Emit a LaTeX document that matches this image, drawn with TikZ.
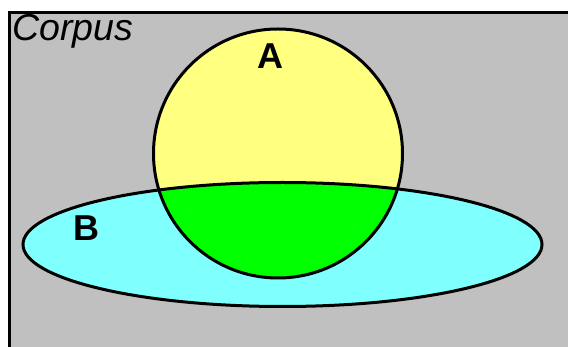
\documentclass[tikz,border=0pt]{standalone}
\usepackage{fontspec}
\setmainfont{Liberation Sans}
\definecolor{corpusgray}{RGB}{192,192,192}
\definecolor{setA}{RGB}{255,255,128}
\definecolor{setB}{RGB}{128,255,255}
\definecolor{setAB}{RGB}{0,255,0}
\tikzset{outline/.style={draw=black, line width=3pt}}
\begin{document}
\begin{tikzpicture}[x=1pt,y=-1pt]
\useasboundingbox (0,0) rectangle (568,347);
\fill[white] (0,0) rectangle (568,347);
\fill[corpusgray] (9,13) rectangle (568,347);
\draw[line width=3pt] (9,347) -- (9,13) -- (568,13);
\coordinate (cA) at (278,153.5);
\coordinate (cB) at (282.5,244.5);
% fills
\fill[setA] (cA) circle[radius=124.5];
\fill[setB] (cB) ellipse[x radius=259.5, y radius=62];
\begin{scope}
\clip (cA) circle[radius=124.5];
\fill[setAB] (cB) ellipse[x radius=259.5, y radius=62];
\end{scope}
% outlines
\draw[outline] (cA) circle[radius=124.5];
\draw[outline] (cB) ellipse[x radius=259.5, y radius=62];
% labels
\node[anchor=base west, inner sep=0, font=\fontsize{37.5}{42}\selectfont\itshape] (corpus) at (12,41) {Corpus};
\node[inner sep=0, font=\fontsize{36}{40}\selectfont\bfseries] (labA) at (270,56) {A};
\node[inner sep=0, font=\fontsize{36}{40}\selectfont\bfseries] (labB) at (86,228.5) {B};
\end{tikzpicture}
\end{document}
